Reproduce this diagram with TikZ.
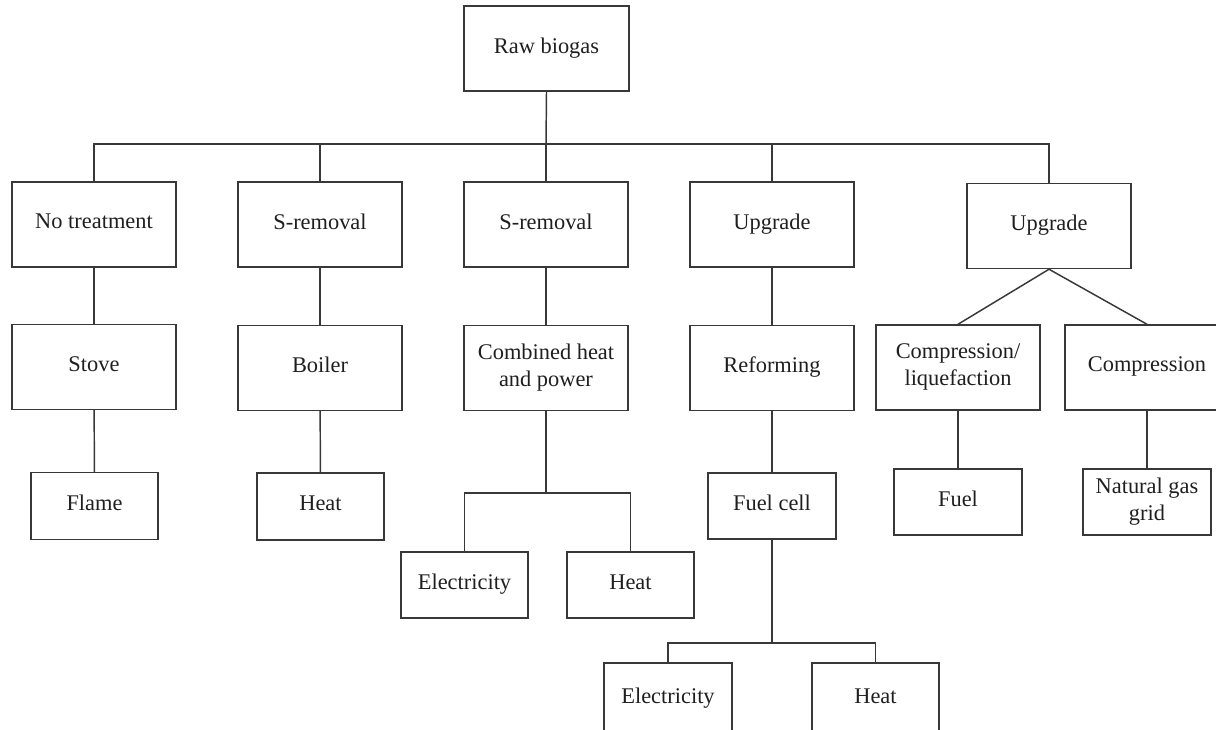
\documentclass[tikz,border=0pt]{standalone}
\usepackage{fontspec}
\setmainfont{Liberation Serif}
\begin{document}
\begin{tikzpicture}[x=0.75pt,y=-0.75pt,
  every node/.style={font=\fontsize{16.8}{20}\selectfont, text=black!88},
  box/.style 2 args={draw=black!78, line width=1.1pt, rectangle, inner sep=0pt,
    align=center, minimum width=#1*0.75pt, minimum height=#2*0.75pt,
    execute at begin node={\rule[-4.5pt]{0pt}{15pt}}},
  link/.style={draw=black!78, line width=1.1pt}]
\useasboundingbox (0,0) rectangle (1216,729);
\clip (0,0) rectangle (1216,729);

% root
\node[box={165}{85}] (raw) at (546.5,48.5) {Raw biogas};

% first level: treatment
\node[box={164}{85}] (nt)  at (94,224.5)   {No treatment};
\node[box={164}{85}] (s1)  at (320,224.5)  {S-removal};
\node[box={164}{85}] (s2)  at (546,224.5)  {S-removal};
\node[box={164}{85}] (up1) at (772,224.5)  {Upgrade};
\node[box={164}{85}] (up2) at (1049,226)   {Upgrade};

% second level: conversion
\node[box={164}{85}] (stove)  at (94,367)    {Stove};
\node[box={164}{85}] (boiler) at (320,368)   {Boiler};
\node[box={164}{85}] (chp)    at (546,368)   {Combined heat\\and power};
\node[box={164}{85}] (ref)    at (772,368)   {Reforming};
\node[box={164}{85}] (cl)     at (958,367.5) {Compression/\\liquefaction};
\node[box={164}{85}] (comp)   at (1147,367.5) {Compression};

% third level: end use
\node[box={127}{67}] (flame) at (94.5,506)  {Flame};
\node[box={127}{67}] (heatA) at (320.5,506.5) {Heat};
\node[box={128}{66}] (fc)    at (772,506)   {Fuel cell};
\node[box={128}{66}] (fuel)  at (958,502)   {Fuel};
\node[box={128}{66}] (ngg)   at (1147,502)  {Natural gas\\grid};

% outputs of combined heat and power
\node[box={127}{66}] (elecA) at (464.5,585) {Electricity};
\node[box={127}{66}] (heatB) at (630.5,585) {Heat};

% outputs of the fuel cell
\node[box={128}{72}] (elecB) at (668,699) {Electricity};
\node[box={127}{72}] (heatC) at (875.5,699) {Heat};

% distribution bus under the root
\coordinate (bus) at (546,144);
\draw[link] (raw.south) -- (bus);
\draw[link] (nt.north) -- (nt.north |- bus) -- (up2.north |- bus) -- (up2.north);
\draw[link] (s1.north) -- (s1.north |- bus);
\draw[link] (s2.north) -- (bus);
\draw[link] (up1.north) -- (up1.north |- bus);

% vertical chains
\draw[link] (nt) -- (stove);
\draw[link] (stove) -- (flame);
\draw[link] (s1) -- (boiler);
\draw[link] (boiler) -- (heatA);
\draw[link] (s2) -- (chp);
\draw[link] (up1) -- (ref);
\draw[link] (ref) -- (fc);
\draw[link] (cl) -- (fuel);
\draw[link] (comp) -- (ngg);

% split after the second upgrade
\draw[link] (cl.north) -- (up2.south) -- (comp.north);

% split after combined heat and power
\coordinate (chpj) at (546,493);
\draw[link] (chp.south) -- (chpj);
\draw[link] (elecA.north) -- (elecA.north |- chpj) -- (heatB.north |- chpj) -- (heatB.north);

% split after the fuel cell
\coordinate (fcj) at (772,643);
\draw[link] (fc.south) -- (fcj);
\draw[link] (elecB.north) -- (elecB.north |- fcj) -- (heatC.north |- fcj) -- (heatC.north);
\end{tikzpicture}
\end{document}
